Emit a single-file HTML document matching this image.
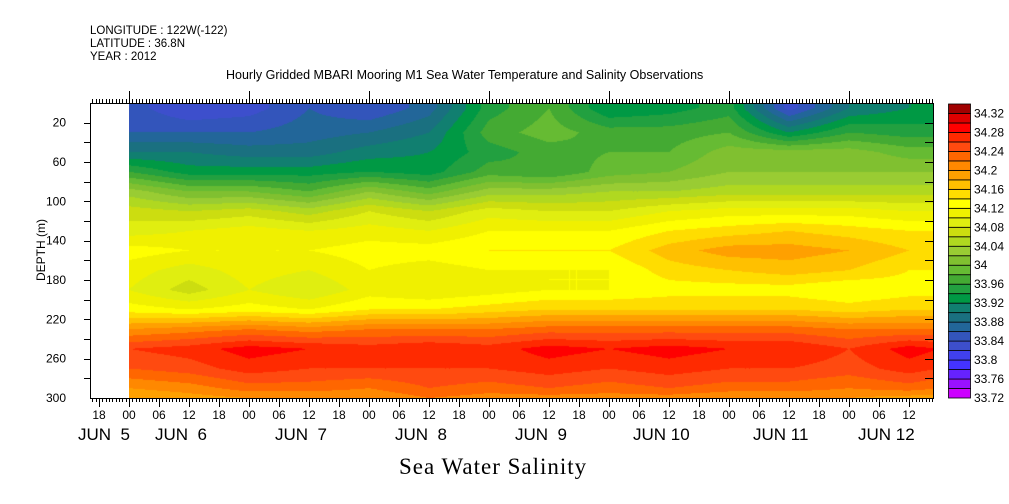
<!DOCTYPE html>
<html><head><meta charset="utf-8"><style>
body{margin:0;background:#fff;width:1009px;height:504px;overflow:hidden;position:relative;font-family:"Liberation Sans",sans-serif;color:#000}
.t{position:absolute;white-space:nowrap;line-height:1}
</style></head><body>
<div class="t" style="left:90px;top:26px;font-size:11.5px">LONGITUDE : 122W(-122)</div>
<div class="t" style="left:90px;top:39px;font-size:11.5px">LATITUDE : 36.8N</div>
<div class="t" style="left:90px;top:52px;font-size:11.5px">YEAR : 2012</div>
<div class="t" style="left:226px;top:69px;font-size:12.5px">Hourly Gridded MBARI Mooring M1 Sea Water Temperature and Salinity Observations</div>
<div class="t" style="left:41px;top:250px;font-size:12px;transform:translate(-50%,-50%) rotate(-90deg)">DEPTH (m)</div>
<div class="t" style="left:399px;top:455px;font-size:23px;font-family:'Liberation Serif',serif;letter-spacing:1px">Sea Water Salinity</div>
<canvas id="cv" width="804" height="295" style="position:absolute;left:129px;top:103px"></canvas>
<svg id="sv" width="1009" height="504" style="position:absolute;left:0;top:0"></svg>
<script>
// ---- data ----
const times = [0,12,24,36,48,60,72,84,96,108,120,132,144,156,162];
const depths = [5,30,50,70,90,110,130,150,170,190,210,230,250,270,290,300];
const salinityCols = [
[33.85,33.86,33.90,33.96,34.03,34.07,34.09,34.13,34.11,34.10,34.13,34.20,34.26,34.24,34.20,34.18],
[33.82,33.86,33.90,33.93,34.00,34.06,34.10,34.12,34.09,34.07,34.12,34.21,34.27,34.25,34.21,34.19],
[33.83,33.86,33.89,33.93,34.00,34.07,34.11,34.12,34.11,34.10,34.13,34.22,34.29,34.27,34.23,34.20],
[33.86,33.87,33.89,33.93,33.98,34.05,34.10,34.12,34.10,34.08,34.12,34.21,34.28,34.26,34.23,34.20],
[33.84,33.88,33.91,33.94,34.02,34.08,34.11,34.13,34.12,34.11,34.14,34.22,34.27,34.26,34.22,34.20],
[33.87,33.90,33.92,33.93,33.99,34.06,34.10,34.13,34.11,34.10,34.14,34.22,34.28,34.26,34.24,34.22],
[33.95,33.97,33.95,33.97,34.03,34.09,34.12,34.14,34.12,34.11,34.15,34.22,34.27,34.26,34.23,34.21],
[33.98,33.99,33.97,33.96,34.03,34.08,34.12,34.14,34.12,34.12,34.16,34.23,34.29,34.27,34.24,34.21],
[33.92,33.97,33.98,33.99,34.04,34.08,34.12,34.14,34.12,34.12,34.16,34.23,34.28,34.26,34.23,34.21],
[33.93,33.97,33.98,34.00,34.04,34.10,34.14,34.17,34.15,34.13,34.16,34.23,34.29,34.27,34.24,34.21],
[33.95,33.98,34.01,34.02,34.05,34.11,34.15,34.19,34.16,34.13,34.16,34.23,34.28,34.26,34.23,34.20],
[33.83,33.92,34.01,34.02,34.05,34.11,34.16,34.19,34.17,34.13,34.16,34.23,34.28,34.26,34.23,34.20],
[33.90,33.96,34.01,34.02,34.05,34.11,34.15,34.18,34.16,34.12,34.15,34.22,34.26,34.25,34.22,34.20],
[33.92,33.95,33.99,34.02,34.05,34.10,34.14,34.16,34.14,34.13,34.16,34.22,34.29,34.27,34.23,34.19],
[33.92,33.95,33.99,34.02,34.05,34.10,34.14,34.16,34.14,34.13,34.16,34.22,34.28,34.26,34.22,34.19]
];
const levelMin = 33.72, levelStep = 0.02;
const bandColors = ['#cc00ff','#9911ff','#6622ff','#4433ff','#4040ee','#3d4fcc','#3355bb','#226699','#1a7080','#117f70','#009944','#22a040','#44aa33','#66bb33','#80c030','#99cc33','#b0d820','#ccdd10','#e0ee10','#f0f000','#ffff00','#ffdd00','#ffc000','#ffa000','#ff8800','#ff6600','#ff4a10','#ff2a00','#ff0000','#dd0000','#a00000'];
const cbLabels = ['33.72','33.76','33.8','33.84','33.88','33.92','33.96','34','34.04','34.08','34.12','34.16','34.2','34.24','34.28','34.32'];
const hourLabels = ['18','00','06','12','18','00','06','12','18','00','06','12','18','00','06','12','18','00','06','12','18','00','06','12','18','00','06','12','18','00','06','12'];
const dayLabels = [['JUN  5',78],['JUN  6',155],['JUN  7',275],['JUN  8',395],['JUN  9',515],['JUN 10',633],['JUN 11',753],['JUN 12',858]];
const depthTicks = [20,60,100,140,180,220,260,300];

// ---- axis functions ----
const X0=90,X1=933,Y0=103,Y1=398;
const xOf = h => 129 + h*5;          // hours since Jun 5 00
const yOf = d => Y0 + d*(Y1-Y0)/300;
const hOfX = x => (x-129)/5;
const dOfY = y => (y-Y0)*300/(Y1-Y0);

function hex(c){return [parseInt(c.substr(1,2),16),parseInt(c.substr(3,2),16),parseInt(c.substr(5,2),16)];}
const rgb = bandColors.map(hex);
function interp(arr,v){let i=0;while(i<arr.length-2&&v>arr[i+1])i++;let f=(v-arr[i])/(arr[i+1]-arr[i]);return [i,Math.max(0,Math.min(1,f))];}

// ---- draw field ----
const cv=document.getElementById('cv'),ctx=cv.getContext('2d');
const img=ctx.createImageData(cv.width,cv.height);
for(let py=0;py<cv.height;py++){
  const [di,df]=interp(depths,dOfY(py+Y0+0.5));
  for(let px=0;px<cv.width;px++){
    const [ti,tf]=interp(times,hOfX(px+129+0.5));
    const a=salinityCols[ti][di]*(1-df)+salinityCols[ti][di+1]*df;
    const b=salinityCols[ti+1][di]*(1-df)+salinityCols[ti+1][di+1]*df;
    const v=a*(1-tf)+b*tf;
    let k=Math.floor((v-levelMin)/levelStep);k=Math.max(0,Math.min(rgb.length-1,k));
    const o=(py*cv.width+px)*4;img.data[o]=rgb[k][0];img.data[o+1]=rgb[k][1];img.data[o+2]=rgb[k][2];img.data[o+3]=255;
  }
}
ctx.putImageData(img,0,0);

// ---- axes ----
const sv=document.getElementById('sv');const NS='http://www.w3.org/2000/svg';
function el(tag,attrs,name){const e=document.createElementNS(NS,tag);for(const k in attrs)e.setAttribute(k,attrs[k]);


sv.appendChild(e);return e;}
el('rect',{x:X0+.5,y:Y0+.5,width:X1-X0,height:Y1-Y0,fill:'none',stroke:'#000','stroke-width':1},'plot-frame');
let p='';
for(let h=-38;xOf(h)<=X1;h+=2/3){const x=Math.round(xOf(h))+.5;if(x<X0)continue;p+=`M${x} ${Y0}v-4M${x} ${Y1}v4`;}
for(let h=-6;xOf(h)<=X1;h+=6){const x=Math.round(xOf(h))+.5;p+=`M${x} ${Y1}v9`;if(h%24===0)p+=`M${x} ${Y0}v-12`;}
for(let d=20;d<300;d+=20){const y=Math.round(yOf(d))+.5;p+=`M${X0} ${y}h-6M${X1} ${y}h-8`;}
el('path',{d:p,stroke:'#000','stroke-width':1,fill:'none'},'axis-ticks');
hourLabels.forEach((l,i)=>{const x=xOf(-6+i*6);if(x>X1)return;const t=el('text',{x:x,y:419,'font-size':12,'text-anchor':'middle','font-family':'Liberation Sans, sans-serif'},'x-hour-label');t.textContent=l;});
dayLabels.forEach(([l,x])=>{const t=el('text',{x:x,y:440,'font-size':17,'font-family':'Liberation Sans, sans-serif','xml:space':'preserve'},'x-day-label');t.style.whiteSpace='pre';t.textContent=l;});
depthTicks.forEach(d=>{const t=el('text',{x:66,y:yOf(d)+4,'font-size':12,'text-anchor':'end','font-family':'Liberation Sans, sans-serif'},'y-tick-label');t.textContent=d;});
// ---- colorbar ----
const CB0=104,CB1=398,bh=(CB1-CB0)/bandColors.length;
bandColors.forEach((c,i)=>{el('rect',{x:948.5,y:CB1-(i+1)*bh,width:22,height:bh,fill:c,stroke:'#000','stroke-width':0.8},'colorbar-band');});
cbLabels.forEach((l,i)=>{const t=el('text',{x:974,y:CB1-i*2*bh+4,'font-size':12,'font-family':'Liberation Sans, sans-serif'},'colorbar-label');t.textContent=l;});
</script>
</body></html>
